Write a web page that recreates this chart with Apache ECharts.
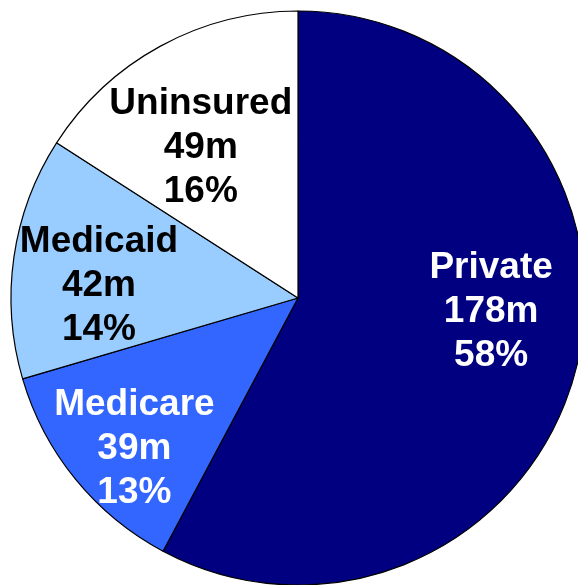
<!DOCTYPE html>
<html>
<head>
<meta charset="utf-8">
<script src="https://cdn.jsdelivr.net/npm/echarts@6/dist/echarts.min.js"></script>
<style>
  html, body { margin: 0; padding: 0; background: #ffffff; }
  #chart { width: 578px; height: 585px; }
</style>
</head>
<body>
<div id="chart"></div>
<script>
// Health insurance coverage, millions of people
const categories = ['Private', 'Medicare', 'Medicaid', 'Uninsured'];
const millions = [178, 39, 42, 49];
// published shares (rounded, so they total 101)
const sharePct = [58, 13, 14, 16];

const sliceColors = ['#000080', '#3366FF', '#99CCFF', '#FFFFFF'];
const textColors = ['#FFFFFF', '#FFFFFF', '#000000', '#000000'];
// nudges from the default inside-label anchor
const labelShift = [[51, -22], [-50, 58], [-54, 9], [-27, -22]];

const chart = echarts.init(document.getElementById('chart'), null, { renderer: 'canvas' });

chart.setOption({
  animation: false,
  series: [{
    type: 'pie',
    center: [298, 298],
    radius: 287,
    startAngle: 90,
    clockwise: true,
    avoidLabelOverlap: false,
    emphasis: { disabled: true },
    itemStyle: { borderColor: '#000000', borderWidth: 1.2 },
    label: {
      show: true,
      position: 'inside',
      formatter: p => p.name + '\n' + p.value + 'm\n' + sharePct[p.dataIndex] + '%',
      fontFamily: '"Liberation Sans", Arial, sans-serif',
      fontWeight: 'bold',
      fontSize: 37,
      lineHeight: 44,
      align: 'center'
    },
    labelLine: { show: false },
    data: categories.map((name, i) => ({
      name: name,
      value: millions[i],
      itemStyle: { color: sliceColors[i] },
      label: { color: textColors[i], offset: labelShift[i] }
    }))
  }]
});
</script>
</body>
</html>
